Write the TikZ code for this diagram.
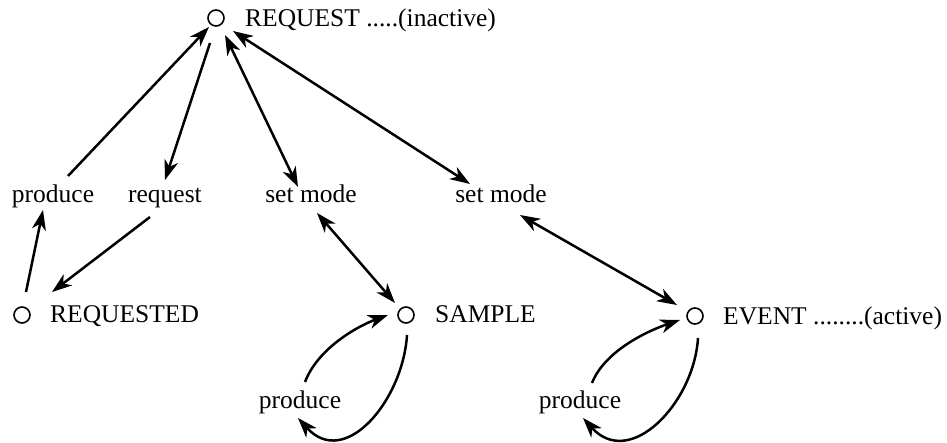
\documentclass[tikz,border=0pt]{standalone}
\usepackage{fontspec}
\setmainfont{Liberation Serif}
\usetikzlibrary{arrows.meta,calc}
\begin{document}
\begin{tikzpicture}[x=1pt,y=-1pt,
  lbl/.style={inner sep=0pt,font=\fontsize{25.5}{30}\selectfont},
  state/.style={circle,draw,line width=1.6pt,minimum size=16pt,inner sep=0pt},
  conn/.style={line width=2.5pt,-{Stealth[length=20pt,width=14pt,inset=6pt]}},
  biconn/.style={line width=2.5pt,{Stealth[length=20pt,width=14pt,inset=6pt]}-{Stealth[length=20pt,width=14pt,inset=6pt]}}]
\useasboundingbox (0,0) rectangle (947,443);

% states
\node[state] (rqc) at (216,18) {};
\node[lbl,anchor=base west] (rqt) at (245,27) {REQUEST .....(inactive)};
\node[state] (c1) at (22,315) {};
\node[lbl,anchor=base west] (c1t) at (50,323) {REQUESTED};
\node[state] (cs) at (406,315) {};
\node[lbl,anchor=base west] (cst) at (435,323) {SAMPLE};
\node[state] (ce) at (695,316) {};
\node[lbl,anchor=base west] (cet) at (723,324) {EVENT ........(active)};

% transition labels
\node[lbl,anchor=base] (prodL) at (53,203) {produce};
\node[lbl,anchor=base] (req) at (165,203) {request};
\node[lbl,anchor=base] (sm1) at (311,203) {set mode};
\node[lbl,anchor=base] (sm2) at (501,203) {set mode};
\node[lbl,anchor=base] (prodS) at (300,408) {produce};
\node[lbl,anchor=base] (prodE) at (580,408) {produce};

% REQUEST / REQUESTED cycle
\draw[conn] ($(c1)+(4,-23)$) -- ($(prodL.base)+(-10,7)$);
\draw[conn] ($(prodL.base)+(15,-27)$) -- ($(rqc)+(-7,9)$);
\draw[conn] ($(rqc)+(-6,25)$) -- ($(req.base)+(0,-23)$);
\draw[conn] ($(req.base)+(-15,14)$) -- ($(c1)+(30,-23)$);

% mode switching
\draw[biconn] ($(rqc)+(9,17)$) -- ($(sm1.base)+(-13,-16)$);
\draw[biconn] ($(rqc)+(17,13)$) -- ($(sm2.base)+(-31,-19)$);
\draw[biconn] ($(sm1.base)+(6,10)$) -- ($(cs)+(-11,-12)$);
\draw[biconn] ($(sm2.base)+(19,12)$) -- ($(ce)+(-18,-11)$);

% SAMPLE loop
\draw[conn] ($(cs)+(1,20)$) .. controls ($(cs)+(-3,85)$) and ($(prodS.base)+(45,62)$) .. ($(prodS.base)+(-2,10)$);
\draw[conn] ($(prodS.base)+(5,-26)$) .. controls ($(prodS.base)+(18,-60)$) and ($(cs)+(-48,11)$) .. ($(cs)+(-18,0)$);

% EVENT loop
\draw[conn] ($(ce)+(3,22)$) .. controls ($(ce)+(-1,87)$) and ($(prodE.base)+(50,62)$) .. ($(prodE.base)+(3,10)$);
\draw[conn] ($(prodE.base)+(12,-25)$) .. controls ($(prodE.base)+(25,-58)$) and ($(ce)+(-45,14)$) .. ($(ce)+(-15,4)$);
\end{tikzpicture}
\end{document}
